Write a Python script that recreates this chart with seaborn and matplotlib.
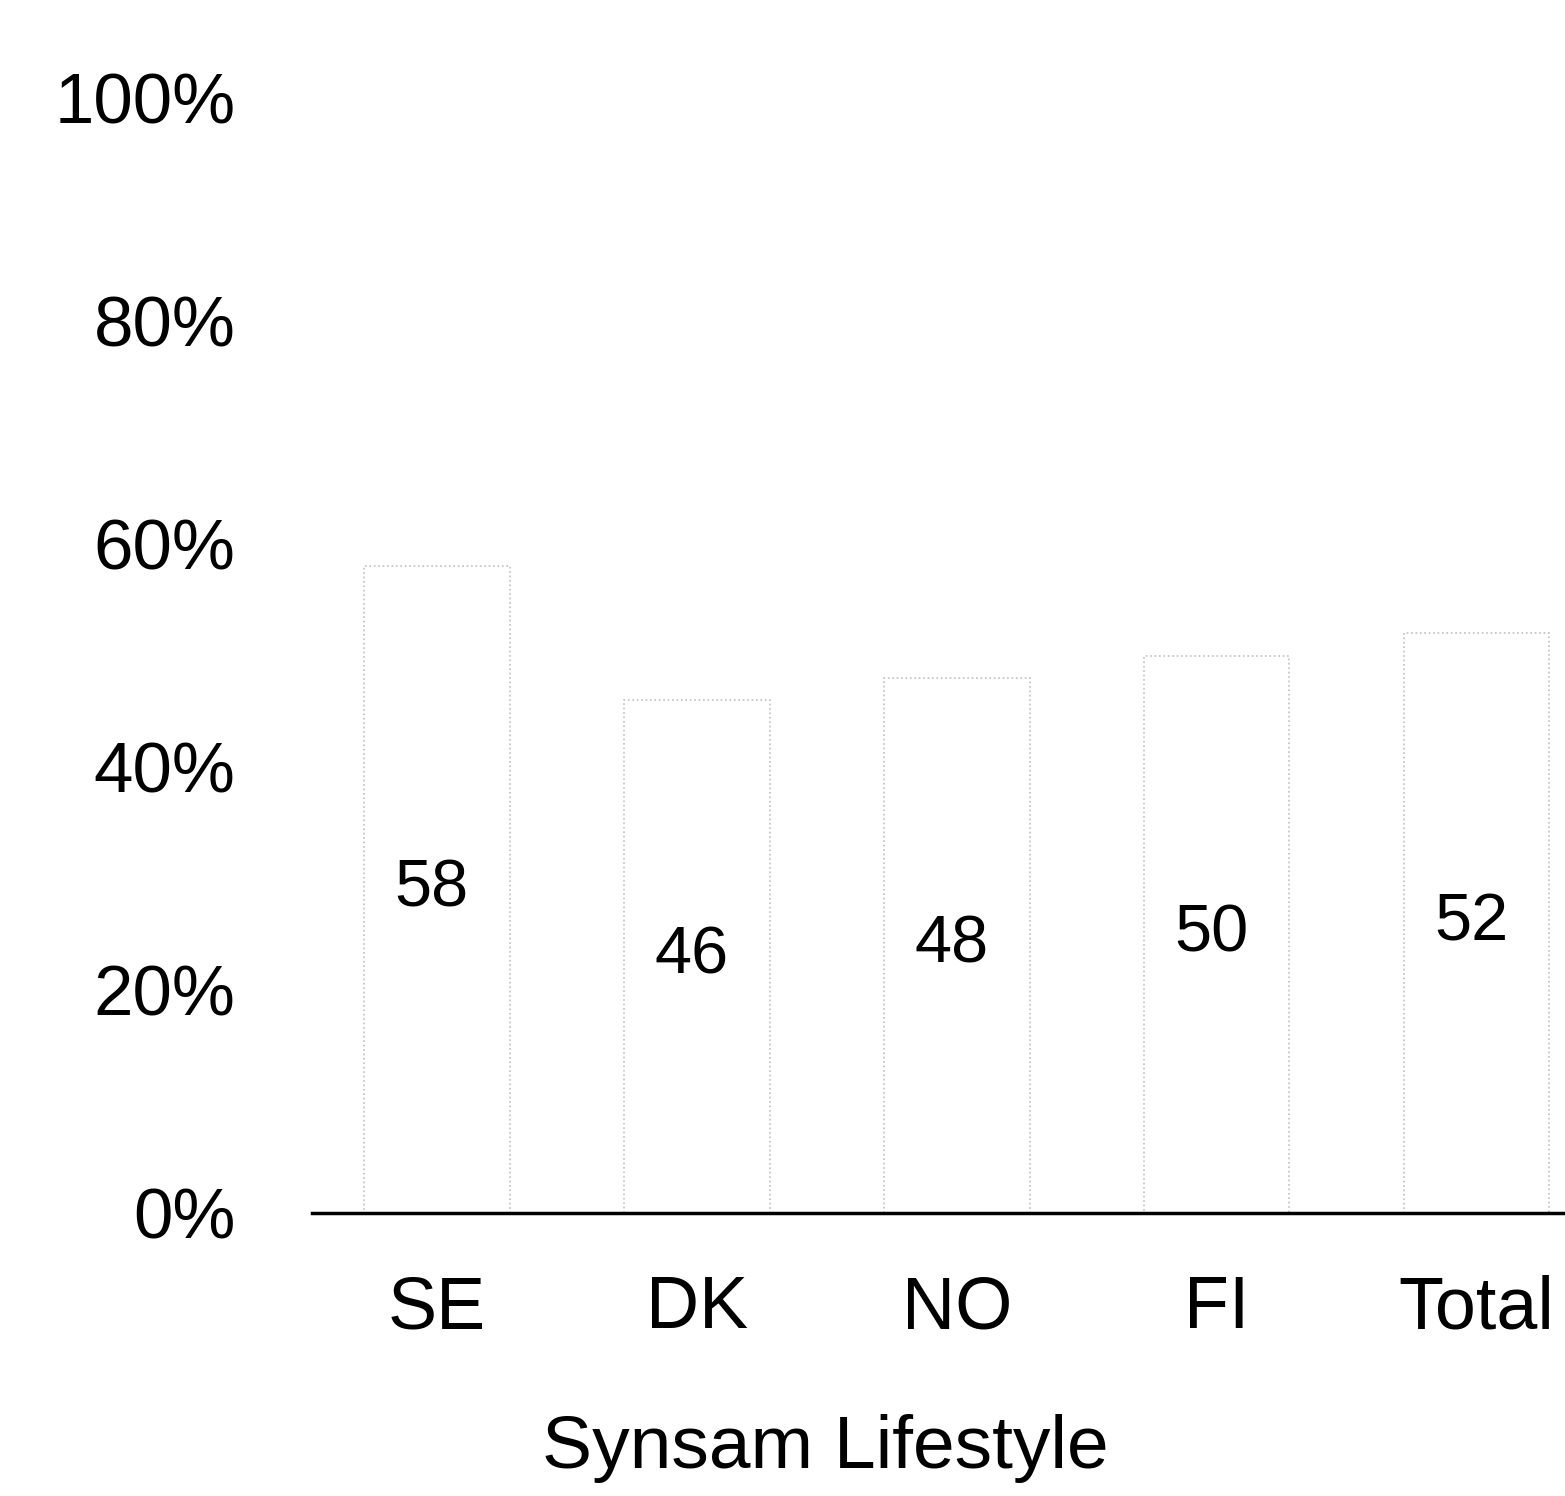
import matplotlib
matplotlib.use("Agg")
from matplotlib import pyplot as plt
import seaborn as sns
import pandas as pd

categories = ["SE", "DK", "NO", "FI", "Total"]
values = [58, 46, 48, 50, 52]
yticks = [0, 20, 40, 60, 80, 100]
ytick_labels = ["0%", "20%", "40%", "60%", "80%", "100%"]

sns.set_style("white")
plt.rcParams["font.family"] = ["Liberation Sans", "DejaVu Sans"]
plt.rcParams["text.color"] = "black"
plt.rcParams["xtick.color"] = "black"
plt.rcParams["ytick.color"] = "black"
plt.rcParams["axes.labelcolor"] = "black"

df = pd.DataFrame({"country": categories, "share": values})

fig = plt.figure(figsize=(15.65, 14.96), dpi=100)
ax = fig.add_axes([0.1994, 0.189, 0.8006, 0.7455])

sns.barplot(data=df, x="country", y="share", color="white", width=0.56,
            edgecolor="#c0c0c0", linewidth=1.2, linestyle=":", ax=ax)

for patch, v in zip(ax.patches, values):
    cx = patch.get_x() + patch.get_width() / 2
    ax.text(cx - 0.02, v / 2, str(v), ha="center", va="center",
            fontsize=48, color="black")

ax.set_ylim(0, 100)
ax.set_xlim(-0.48, 4.34)
ax.set_yticks(yticks)
ax.set_yticklabels(ytick_labels, fontsize=51)
ax.tick_params(axis="y", length=0, pad=55)
ax.tick_params(axis="x", length=0, pad=44, labelsize=53)

for side in ["left", "top", "right"]:
    ax.spines[side].set_visible(False)
ax.spines["bottom"].set_linewidth(2.5)
ax.spines["bottom"].set_color("black")

ax.set_ylabel("")
ax.set_xlabel("Synsam Lifestyle", fontsize=54)
ax.xaxis.set_label_coords(0.41, -0.18)

plt.savefig("out.png", dpi=100)
